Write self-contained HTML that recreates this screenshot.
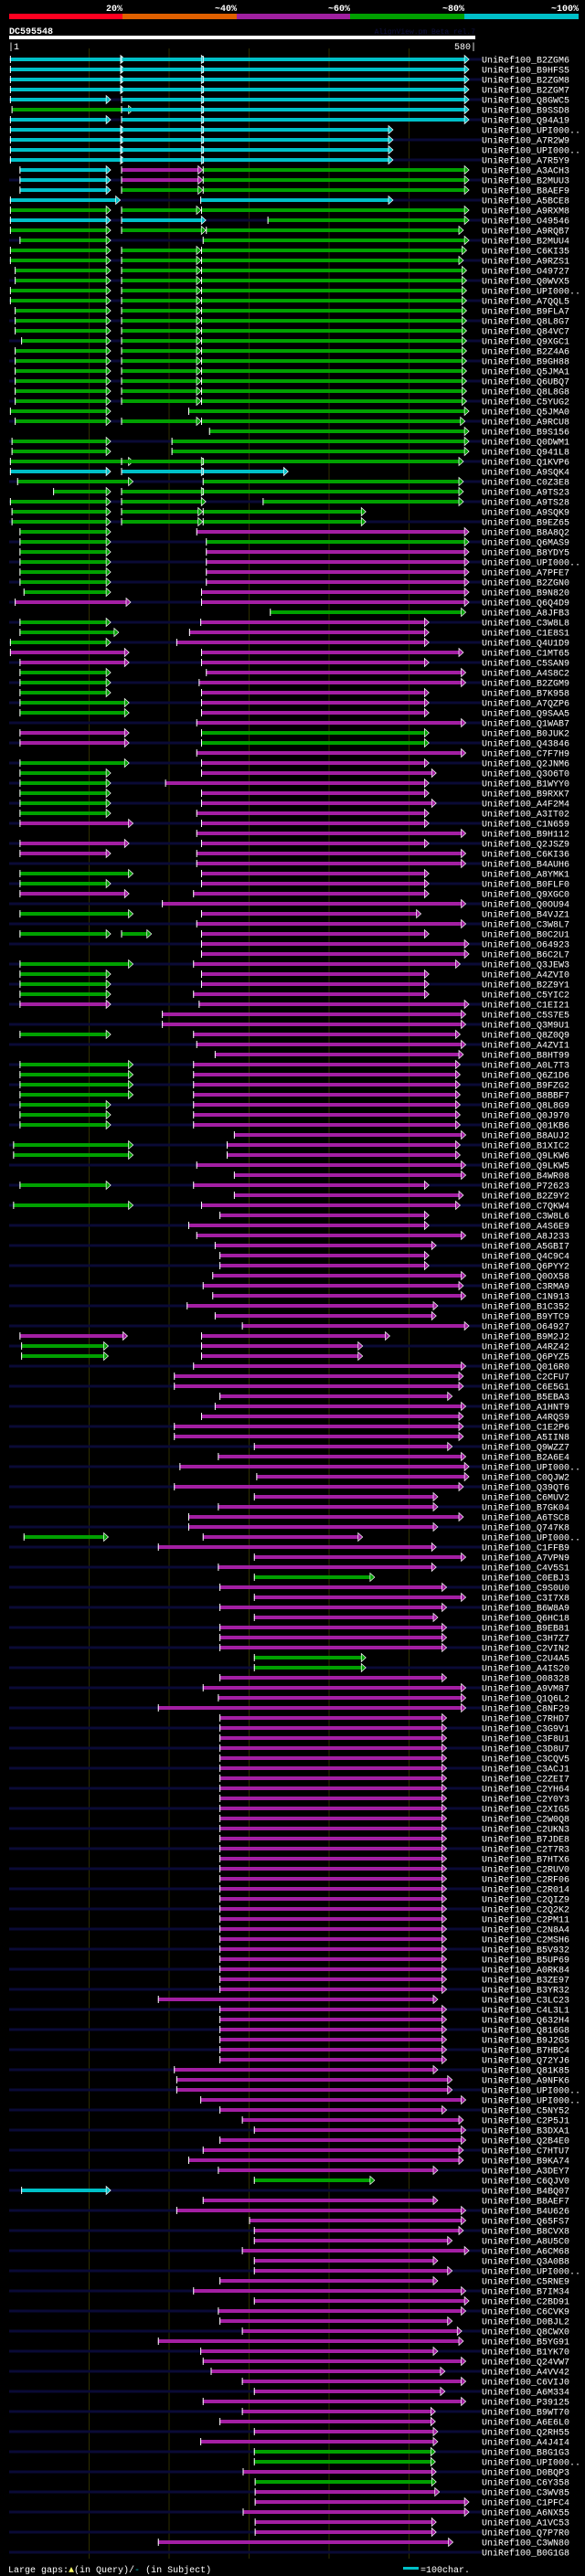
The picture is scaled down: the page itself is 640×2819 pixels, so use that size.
<!DOCTYPE html>
<html><head><meta charset="utf-8">
<style>
html,body{margin:0;padding:0;background:#000;}
svg{display:block;}
text{font-family:"Liberation Mono",monospace;}
</style></head>
<body>
<svg id="chart" width="640" height="2819" viewBox="0 0 640 2819" xmlns="http://www.w3.org/2000/svg">
<rect x="0" y="0" width="640" height="2819" fill="#000"/>
<g>
<rect x="10" y="15" width="124" height="6" fill="#ff0020"/>
<rect x="134" y="15" width="125" height="6" fill="#e06000"/>
<rect x="259" y="15" width="124" height="6" fill="#a020a0"/>
<rect x="383" y="15" width="125" height="6" fill="#00a000"/>
<rect x="508" y="15" width="125" height="6" fill="#00c0c8"/>
<text x="134" y="12" fill="#fff" font-size="10" font-weight="bold" text-anchor="end">20%</text>
<text x="259" y="12" fill="#fff" font-size="10" font-weight="bold" text-anchor="end">~40%</text>
<text x="383" y="12" fill="#fff" font-size="10" font-weight="bold" text-anchor="end">~60%</text>
<text x="508" y="12" fill="#fff" font-size="10" font-weight="bold" text-anchor="end">~80%</text>
<text x="633" y="12" fill="#fff" font-size="10" font-weight="bold" text-anchor="end">~100%</text>
</g>
<text x="10" y="37" fill="#fff" font-size="10" font-weight="bold">DC595548</text>
<text x="520" y="37" fill="#101040" font-size="8" text-anchor="end">AlignView.pm Beta rel.7</text>
<rect x="10" y="39" width="510" height="4" fill="#fff"/>
<text x="9" y="54" fill="#fff" font-size="10">|1</text>
<text x="521" y="54" fill="#fff" font-size="10" text-anchor="end">580|</text>
<g id="grid"></g>
<g id="rows"></g>
<g>
<text x="9" y="2815" fill="#fff" font-size="10">Large gaps:<tspan fill="#ffff66">▲</tspan>(in Query)/<tspan fill="#00c0c8">-</tspan> (in Subject)</text>
<rect x="441" y="2809" width="17" height="3" fill="#00c0c8"/>
<text x="460" y="2815" fill="#fff" font-size="10">=100char.</text>
</g>
</svg>
<script>
const queryLength = 580;
const gridTicks = [100, 200, 300, 400, 500];
const colorCodes = ["c", "g", "m"];
const colorValues = ["#00c0c8", "#00a000", "#a31fa3"];
const hitLabels = ["B2ZGM6","B9HFS5","B2ZGM8","B2ZGM7","Q8GWC5","B9SSD8","Q94A19","UPI000..","A7R2W9","UPI000..","A7R5Y9","A3ACH3","B2MUU3","B8AEF9","A5BCE8","A9RXM8","O49546","A9RQB7","B2MUU4","C6KI35","A9RZS1","O49727","Q0WVX5","UPI000..","A7QQL5","B9FLA7","Q8L8G7","Q84VC7","Q9XGC1","B2Z4A6","B9GH88","Q5JMA1","Q6UBQ7","Q8L8G8","C5YUG2","Q5JMA0","A9RCU8","B9S156","Q0DWM1","Q941L8","Q1KVP6","A9SQK4","C0Z3E8","A9TS23","A9TS28","A9SQK9","B9EZ65","B8A8Q2","Q6MAS9","B8YDY5","UPI000..","A7PFE7","B2ZGN0","B9N820","Q6Q4D9","A8JFB3","C3W8L8","C1E8S1","Q4U1D9","C1MT65","C5SAN9","A4S8C2","B2ZGM9","B7K958","A7QZP6","Q9SAA5","Q1WAB7","B0JUK2","Q43846","C7F7H9","Q2JNM6","Q3O6T0","B1WYY0","B9RXK7","A4F2M4","A3IT02","C1N659","B9H112","Q2JSZ9","C6KI36","B4AUH6","A8YMK1","B0FLF0","Q9XGC0","Q0OU94","B4VJZ1","C3W8L7","B0C2U1","O64923","B6C2L7","Q3JEW3","A4ZVI0","B2Z9Y1","C5YIC2","C1EI21","C5S7E5","Q3M9U1","Q8Z0Q9","A4ZVI1","B8HT99","A0L7T3","Q6Z1D6","B9FZG2","B8BBF7","Q8L8G9","Q0J970","Q01KB6","B8AUJ2","B1XIC2","Q9LKW6","Q9LKW5","B4WR08","P72623","B2Z9Y2","C7QKW4","C3W8L6","A4S6E9","A8J233","A5GBI7","Q4C9C4","Q6PYY2","Q0OX58","C3RMA9","C1N913","B1C352","B9YTC9","O64927","B9M2J2","A4RZ42","Q6PYZ5","Q016R0","C2CFU7","C6E5G1","B5EBA3","A1HNT9","A4RQS9","C1E2P6","A5IIN8","Q9WZZ7","B2A6E4","UPI000..","C0QJW2","Q39QT6","C6MUV2","B7GK04","A6TSC8","Q747K8","UPI000..","C1FFB9","A7VPN9","C4V5S1","C0EBJ3","C9S0U0","C3I7X8","B6W8A9","Q6HC18","B9EB81","C3H7Z7","C2VIN2","C2U4A5","A4IS20","O08328","A9VM87","Q1Q6L2","C8NF29","C7RHD7","C3G9V1","C3F8U1","C3D8U7","C3CQV5","C3ACJ1","C2ZEI7","C2YH64","C2Y0Y3","C2XIG5","C2W0Q8","C2UKN3","B7JDE8","C2T7R3","B7HTX6","C2RUV0","C2RF06","C2R014","C2QIZ9","C2Q2K2","C2PM11","C2N8A4","C2MSH6","B5V932","B5UP69","A0RK84","B3ZE97","B3YR32","C3LC23","C4L3L1","Q632H4","Q816G8","B9J2G5","B7HBC4","Q72YJ6","Q81K85","A9NFK6","UPI000..","UPI000..","C5NY52","C2P5J1","B3DXA1","Q2B4E0","C7HTU7","B9KA74","A3DEY7","C6QJV0","B4BQ07","B8AEF7","B4U626","Q65FS7","B8CVX8","A8U5C0","A6CM68","Q3A0B8","UPI000..","C5RNE9","B7IM34","C2BD91","C6CVK9","D0BJL2","Q8CWX0","B5YG91","B1YK70","Q24VW7","A4VV42","C6VIJ0","A6M334","P39125","B9WT70","A6E6L0","Q2RH55","A4J4I4","B8G1G3","UPI000..","D0BQP3","C6Y358","C3WV85","C1PFC4","A6NX55","A1VC53","Q7P7R0","C3WN80","B0G1G8"];
const hitSegments = [
"1-145c 140-246c 242-575c","1-145c 140-246c 242-575c","1-145c 140-246c 242-575c","1-145c 140-246c 242-575c",
"1-127c 140-246c 242-575c","3-155g 140-246c 242-575c","1-127c 140-246c 242-575c",
"1-145c 140-246c 242-480c","1-145c 140-246c 242-480c","1-145c 140-246c 242-480c","1-145c 140-246c 242-480c",
"13-127c 140-242m 242-575g","13-127c 140-242m 242-575g","13-127c 140-242g 242-575g","1-139c 239-480c",
"1-127g 140-240g 240-575g","1-127c 140-246c 323-575g","1-127g 140-246g 246-568g","13-127g 242-575g",
"1-127g 140-240g 240-572g","1-127g 140-240g 240-568g","7-127g 140-240g 240-572g","7-127g 140-240g 240-572g",
"1-127g 140-240g 240-572g","1-127g 140-240g 240-572g","7-127g 140-240g 240-572g","7-127g 140-240g 240-572g",
"7-127g 140-240g 240-572g","15-127g 140-240g 240-572g","7-127g 140-240g 240-572g","7-127g 140-240g 240-572g",
"7-127g 140-240g 240-572g","7-127g 140-240g 240-572g","7-127g 140-240g 240-572g","7-127g 140-240g 240-572g",
"1-127g 224-575g","7-127g 140-240g 240-570g","250-575g","3-127g 203-575g","3-127g 203-575g",
"1-155g 140-246g 242-568g","1-127c 140-246c 242-349c","10-155g 242-568g","55-127g 140-246g 242-568g",
"1-127g 140-246g 317-568g","3-127g 140-242g 242-446g","3-127g 140-242g 242-446g","13-127g 234-575m",
"13-127g 246-575g","13-127g 246-575m","13-127g 246-575m","13-127g 246-575m","13-127g 246-575m",
"18-127g 240-575m","7-152m 240-575m","326-571g","13-127g 239-525m","13-137g 225-525m","1-127g 209-525m",
"1-150m 240-568m","13-150m 240-525m","13-127g 246-571m","13-127g 237-571m","13-127g 240-525m",
"13-150g 240-525m","13-150g 240-525m","234-571m","13-150m 240-525g","13-150m 240-525g","234-571m",
"13-150g 240-525m","13-127g 240-534m","13-127g 195-525m","13-127g 240-525m","13-127g 240-534m",
"13-127g 234-525m","13-155m 240-525m","234-571m","13-150m 240-525m","13-127m 234-571m","234-571m",
"13-155g 240-525m","13-127g 240-525m","13-150m 230-525m","191-571m","13-155g 240-515m","234-571m",
"13-127g 140-178g 240-525m","240-575m","240-575m","13-155g 230-564m","13-127g 240-525m","13-127g 240-525m",
"13-127g 230-525m","13-127m 237-575m","191-571m","191-571m","13-127g 230-564m","234-571m","257-568m",
"13-155g 230-564m","13-155g 230-564m","13-155g 230-564m","13-155g 230-564m","13-127g 230-564m",
"13-127g 230-564m","13-127g 230-564m","281-571m","5-155g 272-564m","5-155g 272-564m","234-571m",
"281-571m","13-127g 230-525m","281-568m","5-155g 240-564m","263-525m","224-525m","234-571m","257-534m",
"263-525m","263-525m","254-571m","242-568m","254-571m","222-536m","257-534m","291-575m",
"13-148m 240-476m","15-124g 240-442m","15-124g 240-442m","230-571m","206-568m","206-568m","263-554m",
"257-571m","240-568m","206-568m","206-568m","306-554m","261-571m","213-575m","309-575m","206-568m",
"306-536m","261-536m","224-568m","224-536m","18-124g 242-442m","186-534m","306-571m","261-534m",
"306-457g","263-547m","306-571m","263-547m","306-536m","263-547m","263-547m","263-547m","306-446g",
"306-446g","263-547m","242-571m","261-571m","186-571m",
"263-547m","263-547m","263-547m","263-547m","263-547m","263-547m","263-547m","263-547m","263-547m",
"263-547m","263-547m","263-547m","263-547m","263-547m","263-547m","263-547m","263-547m","263-547m",
"263-547m","263-547m","263-547m","263-547m","263-547m","263-547m","263-547m","263-547m","263-547m","263-547m",
"186-536m","263-547m","263-547m","263-547m","263-547m","263-547m","263-547m","206-536m","209-554m",
"209-554m","239-571m","263-547m","291-568m","306-571m","263-571m","242-568m","224-568m","261-536m",
"306-457g","15-127c","242-536m","209-571m","300-571m","306-568m","306-554m","291-575m","306-536m",
"306-554m","263-536m","230-571m","306-575m","261-571m","263-554m","291-566m","186-568m","239-536m",
"242-571m","252-545m","291-571m","306-545m","242-571m","291-533m","263-533m","306-536m","239-536m",
"306-533g","306-533g","292-534m","307-534g","307-538m","307-575m","292-575m","307-534m","307-534m","186-555m"
];

const NS = "http://www.w3.org/2000/svg";
function xScale(pos){ return 10 + pos * 0.875; }
function yRow(i){ return 65 + i * 11; }

const grid = document.getElementById('grid');
gridTicks.forEach(function(t){
  const l = document.createElementNS(NS,'line');
  l.setAttribute('x1', xScale(t)); l.setAttribute('x2', xScale(t));
  l.setAttribute('y1', 53); l.setAttribute('y2', 2800);
  l.setAttribute('stroke', '#2e2e00'); l.setAttribute('stroke-width', 1);
  
  
  grid.appendChild(l);
});

const rowsG = document.getElementById('rows');
hitLabels.forEach(function(label, i){
  const y = yRow(i);
  const g = document.createElementNS(NS,'g');
  
  
  if (i % 2 === 0) {
    const bg = document.createElementNS(NS,'rect');
    bg.setAttribute('x', 10); bg.setAttribute('y', y - 1.5);
    bg.setAttribute('width', 517); bg.setAttribute('height', 3);
    bg.setAttribute('fill', '#0a0a36');
    
    
    g.appendChild(bg);
  }
  const segs = (hitSegments[i] || "").split(" ").filter(Boolean);
  segs.forEach(function(s){
    const m = s.match(/^(\d+)-(\d+)([cgm])$/);
    if (!m) return;
    const a = +m[1], b = +m[2];
    const col = colorValues[colorCodes.indexOf(m[3])];
    const x1 = xScale(a), x2 = xScale(b);
    const r = document.createElementNS(NS,'rect');
    r.setAttribute('x', x1); r.setAttribute('y', y - 2);
    r.setAttribute('width', Math.max(1, x2 - 4 - x1)); r.setAttribute('height', 4);
    r.setAttribute('fill', col);
    
    
    g.appendChild(r);
    const tk = document.createElementNS(NS,'rect');
    tk.setAttribute('x', x1); tk.setAttribute('y', y - 4);
    tk.setAttribute('width', 1); tk.setAttribute('height', 8);
    tk.setAttribute('fill', '#fff');
    
    
    g.appendChild(tk);
    const p = document.createElementNS(NS,'polygon');
    p.setAttribute('points', (x2-5)+','+(y-4.5)+' '+x2+','+y+' '+(x2-5)+','+(y+4.5));
    p.setAttribute('fill', col);
    p.setAttribute('stroke', '#fff'); p.setAttribute('stroke-width', 0.7);
    
    
    g.appendChild(p);
  });
  const t = document.createElementNS(NS,'text');
  t.setAttribute('x', 527); t.setAttribute('y', y + 3.5);
  t.setAttribute('fill', '#fff'); t.setAttribute('font-size', '10');
  t.textContent = 'UniRef100_' + label;
  
  
  g.appendChild(t);
  rowsG.appendChild(g);
});
</script>
</body></html>
